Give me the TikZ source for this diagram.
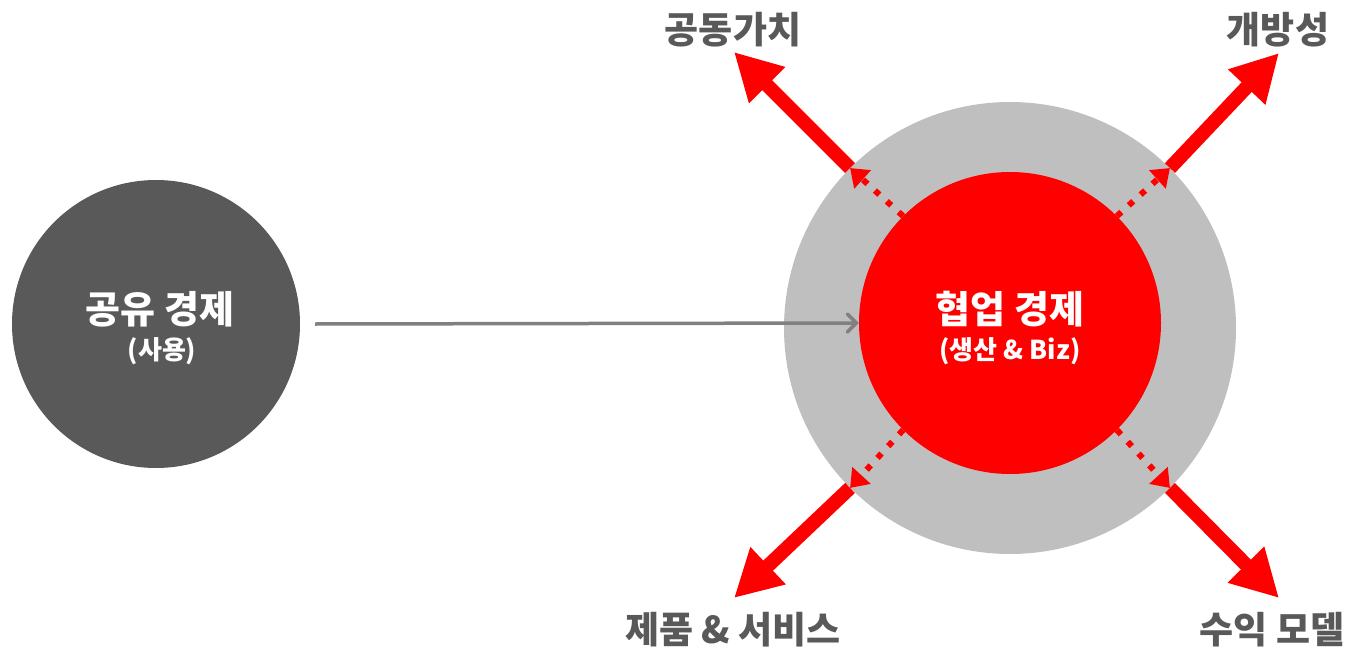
\documentclass[tikz,border=0pt]{standalone}
\usepackage{fontspec}
\newfontfamily\kr{Noto Sans CJK KR}
\usetikzlibrary{arrows.meta}
\definecolor{darkc}{RGB}{89,89,89}
\definecolor{greyc}{RGB}{191,191,191}
\definecolor{redc}{RGB}{255,0,0}
\definecolor{arrg}{RGB}{128,128,128}
\tikzset{
  lbl/.style={font=\kr\bfseries\fontsize{37}{42}\selectfont, text=darkc, inner sep=0pt},
  big/.style={font=\kr\bfseries\fontsize{38}{42}\selectfont, text=white, inner sep=0pt},
  small/.style={font=\kr\bfseries\fontsize{26}{30}\selectfont, text=white, inner sep=0pt},
  solidarr/.style={draw=redc, line width=14pt, -{Triangle[length=47pt,width=48pt]}},
  dotarr/.style={draw=redc, line width=6pt, dash pattern=on 6pt off 10pt, -{Triangle[length=17pt,width=24pt]}}
}
\begin{document}
\begin{tikzpicture}[x=1pt,y=-1pt]
\useasboundingbox (0,0) rectangle (1361,653);
\fill[darkc] (156,324) circle (144);
\node[circle, fill=greyc, minimum size=452pt, inner sep=0pt] (outer) at (1010,328) {};
\node[circle, fill=redc, minimum size=302pt, inner sep=0pt] (inner) at (1010,323) {};
\node[circle, minimum size=288pt, inner sep=0pt] (left) at (156,324) {};
\node[big] (t1) at (160,309) {공유 경제};
\node[small] (t2) at (162,351) {(사용)};
\node[big] (t3) at (1010,309) {협업 경제};
\node[small] (t4) at (1010,351) {(생산 \& Biz)};
\draw[arrg, line width=3.5pt, -{Straight Barb[length=9pt,width=18pt,line cap=round]}] (315,324) -- (inner.west);
% labels
\node[lbl] (l1) at (733,30) {공동가치};
\node[lbl] (l2) at (1278,30) {개방성};
\node[lbl] (l3) at (733,630) {제품 \& 서비스};
\node[lbl] (l4) at (1272,630) {수익 모델};
% edge points
\coordinate (e1) at (outer.135);
\coordinate (e2) at (outer.45);
\coordinate (e3) at (outer.225);
\coordinate (e4) at (outer.315);
\coordinate (k1) at (734,52);
\coordinate (k2) at (1279,53);
\coordinate (k3) at (734,598);
\coordinate (k4) at (1279,598);
\draw[dotarr] (inner.135) -- (e1);
\draw[dotarr] (inner.45) -- (e2);
\draw[dotarr] (inner.225) -- (e3);
\draw[dotarr] (inner.315) -- (e4);
\draw[solidarr] (e1) -- (k1);
\draw[solidarr] (e2) -- (k2);
\draw[solidarr] (e3) -- (k3);
\draw[solidarr] (e4) -- (k4);
\end{tikzpicture}
\end{document}
